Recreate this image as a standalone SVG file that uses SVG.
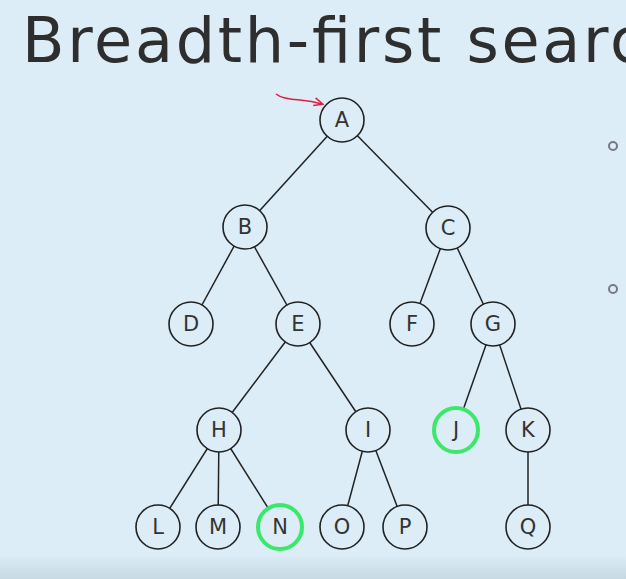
<svg xmlns="http://www.w3.org/2000/svg" width="626" height="579" viewBox="0 0 626 579">
<defs>
<style>
.n circle{fill:#dcedf7;stroke:#222;stroke-width:1.6}
.n.g circle{stroke:#3be86a;stroke-width:4}
.n text{font-family:"DejaVu Sans",sans-serif;font-size:21px;fill:#333;text-anchor:middle;dominant-baseline:central}
.e line{stroke:#222;stroke-width:1.5}
</style>
<linearGradient id="bot" x1="0" y1="0" x2="0" y2="1"><stop offset="0" stop-color="#dcedf7"/><stop offset="1" stop-color="#c6d9e3"/></linearGradient>
<marker id="ah" markerWidth="10" markerHeight="10" refX="8" refY="5" orient="auto" markerUnits="userSpaceOnUse"><path d="M0,1 L9,5 L0,9" fill="none" stroke="#e02040" stroke-width="1.5"/></marker>
</defs>
<rect width="626" height="579" fill="#dcedf7"/>
<rect y="555" width="626" height="24" fill="url(#bot)"/>
<text x="22" y="62" font-family="DejaVu Sans, sans-serif" font-size="62" fill="#2e2e2e" textLength="622" lengthAdjust="spacing">Breadth-first searc</text>
<circle cx="613" cy="146" r="4" fill="none" stroke="#778" stroke-width="2"/>
<circle cx="613" cy="289" r="4" fill="none" stroke="#778" stroke-width="2"/>
<path d="M276,94 Q282,99 300,100 Q312,101 322,104" fill="none" stroke="#e02040" stroke-width="1.6" marker-end="url(#ah)"/>
<g id="edges" class="e">
<line x1="342" y1="120" x2="244" y2="228"/>
<line x1="342" y1="120" x2="448" y2="228"/>
<line x1="244" y1="228" x2="191" y2="325"/>
<line x1="244" y1="228" x2="298" y2="325"/>
<line x1="448" y1="228" x2="412" y2="325"/>
<line x1="448" y1="228" x2="493" y2="325"/>
<line x1="298" y1="325" x2="219" y2="430"/>
<line x1="298" y1="325" x2="368" y2="430"/>
<line x1="493" y1="325" x2="456" y2="430"/>
<line x1="493" y1="325" x2="528" y2="430"/>
<line x1="219" y1="430" x2="158" y2="527"/>
<line x1="219" y1="430" x2="218" y2="527"/>
<line x1="219" y1="430" x2="280" y2="527"/>
<line x1="368" y1="430" x2="342" y2="527"/>
<line x1="368" y1="430" x2="405" y2="527"/>
<line x1="528" y1="430" x2="528" y2="527"/>
</g>
<g id="A" class="n"><circle cx="342" cy="120" r="22"/><text x="342" y="120">A</text></g>
<g id="B" class="n"><circle cx="245" cy="227" r="22"/><text x="245" y="227">B</text></g>
<g id="C" class="n"><circle cx="448" cy="228" r="22"/><text x="448" y="228">C</text></g>
<g id="D" class="n"><circle cx="191" cy="324" r="22"/><text x="191" y="324">D</text></g>
<g id="E" class="n"><circle cx="298" cy="324" r="22"/><text x="298" y="324">E</text></g>
<g id="F" class="n"><circle cx="412" cy="324" r="22"/><text x="412" y="324">F</text></g>
<g id="G" class="n"><circle cx="493" cy="324" r="22"/><text x="493" y="324">G</text></g>
<g id="H" class="n"><circle cx="219" cy="430" r="22"/><text x="219" y="430">H</text></g>
<g id="I" class="n"><circle cx="368" cy="430" r="22"/><text x="368" y="430">I</text></g>
<g id="J" class="n g"><circle cx="456" cy="430" r="22"/><text x="456" y="430">J</text></g>
<g id="K" class="n"><circle cx="528" cy="430" r="22"/><text x="528" y="430">K</text></g>
<g id="L" class="n"><circle cx="158" cy="527" r="22"/><text x="158" y="527">L</text></g>
<g id="M" class="n"><circle cx="218" cy="527" r="22"/><text x="218" y="527">M</text></g>
<g id="N" class="n g"><circle cx="280" cy="527" r="22"/><text x="280" y="527">N</text></g>
<g id="O" class="n"><circle cx="342" cy="527" r="22"/><text x="342" y="527">O</text></g>
<g id="P" class="n"><circle cx="405" cy="527" r="22"/><text x="405" y="527">P</text></g>
<g id="Q" class="n"><circle cx="528" cy="527" r="22"/><text x="528" y="527">Q</text></g>
</svg>
